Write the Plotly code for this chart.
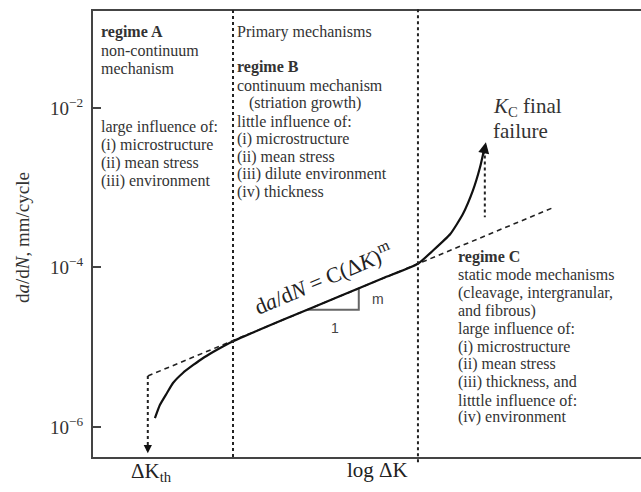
import plotly.graph_objects as go

# ---------------- data (x: log ΔK in arbitrary units, y: log10 da/dN) ----------------
curve_x = [1.13, 1.22, 1.35, 1.46, 1.64, 1.83, 2.01, 2.19, 2.37, 2.555, 3.5, 4.5, 5.3, 5.93,
           6.20, 6.52, 6.75, 6.93, 7.06, 7.135]
curve_logy = [-5.89, -5.725, -5.574, -5.449, -5.323, -5.223, -5.135, -5.06, -4.99, -4.925,
              -4.647, -4.362, -4.133, -3.953,
              -3.79, -3.58, -3.33, -3.04, -2.75, -2.525]
paris_x = [1.0, 8.43]
paris_logy = [-5.361, -3.240]
threshold_x = [1.0, 1.0]
threshold_logy = [-5.361, -6.33]
kc_x = [7.15, 7.15]
kc_logy = [-2.52, -3.37]
regime_bounds = [2.555, 5.93]
tri_x = [3.92, 4.85, 4.85]
tri_logy = [-4.53, -4.53, -4.26]
ytick_vals = [1e-6, 1e-4, 1e-2]
ytick_text = ["10<sup>−6</sup>", "10<sup>−4</sup>", "10<sup>−2</sup>"]

SERIF = "Liberation Serif"
SANS = "Liberation Sans"
TXT = "#333333"
BODY = 16

W, H = 641, 492
ML, MR, MT, MB = 93, 0, 11, 35
PW, PH = W - ML - MR, H - MT - MB


def px(xp):
    return (xp - ML) / PW


def py(yp):
    return (H - MB - yp) / PH


fig = go.Figure()

# threshold dotted arrow
fig.add_trace(go.Scatter(x=threshold_x, y=[10 ** v for v in threshold_logy], mode="lines",
                         line=dict(color="#222", width=2, dash="dot"), hoverinfo="skip"))
# Kc dotted line
fig.add_trace(go.Scatter(x=kc_x, y=[10 ** v for v in kc_logy], mode="lines",
                         line=dict(color="#222", width=2, dash="dot"), hoverinfo="skip"))
# Paris dashed line
fig.add_trace(go.Scatter(x=paris_x, y=[10 ** v for v in paris_logy], mode="lines",
                         line=dict(color="#222", width=1.6, dash="5px,4px"), hoverinfo="skip"))
# slope triangle
fig.add_trace(go.Scatter(x=tri_x, y=[10 ** v for v in tri_logy], mode="lines",
                         line=dict(color="#666", width=2), hoverinfo="skip"))
# main curve
fig.add_trace(go.Scatter(x=curve_x, y=[10 ** v for v in curve_logy], mode="lines",
                         line=dict(color="#111", width=2.2, shape="spline", smoothing=0.5),
                         hoverinfo="skip"))

# regime boundaries
fig.add_shape(type="line", x0=regime_bounds[0], x1=regime_bounds[0], xref="x", yref="paper",
              y0=0, y1=1.008, line=dict(color="#222", width=2, dash="dot"))
fig.add_shape(type="line", x0=regime_bounds[1], x1=regime_bounds[1], xref="x", yref="paper",
              y0=-0.012, y1=1.008, line=dict(color="#222", width=2, dash="dot"))

ann = []
# arrowheads
ann.append(dict(x=7.17, y=-2.43, ax=7.12, ay=-2.60, xref="x", yref="y", axref="x", ayref="y",
                showarrow=True, arrowhead=2, arrowsize=1.1, arrowwidth=2, arrowcolor="#111",
                standoff=0, text=""))
ann.append(dict(x=threshold_x[1], y=threshold_logy[1], ax=threshold_x[1], ay=threshold_logy[1] + 0.12,
                xref="x", yref="y", axref="x", ayref="y", showarrow=True, arrowhead=2,
                arrowsize=1.1, arrowwidth=1.5, arrowcolor="#111", standoff=0, text=""))


def line(text, xp, yp, size=BODY, family=SERIF, color=TXT, **kw):
    d = dict(text=text, x=px(xp), y=py(yp), xref="paper", yref="paper", showarrow=False,
             xanchor="left", yanchor="middle", font=dict(family=family, size=size, color=color))
    d.update(kw)
    ann.append(d)


# regime A
for t, yy in [("<b>regime A</b>", 32), ("non-continuum", 50), ("mechanism", 68),
              ("large influence of:", 127), ("(i) microstructure", 145),
              ("(ii) mean stress", 163), ("(iii) environment", 181)]:
    line(t, 99, yy)

# regime B
for t, yy, xx in [("Primary mechanisms", 32, 235), ("<b>regime B</b>", 67, 235),
                  ("continuum mechanism", 85, 235), ("(striation growth)", 103, 247),
                  ("little influence of:", 121, 235), ("(i) microstructure", 139, 235),
                  ("(ii) mean stress", 157, 235), ("(iii) dilute environment", 174, 235),
                  ("(iv) thickness", 192, 235)]:
    line(t, xx, yy)

# regime C
for t, yy in [("<b>regime C</b>", 257), ("static mode mechanisms", 275),
              ("(cleavage, intergranular,", 293), ("and fibrous)", 311),
              ("large influence of:", 329), ("(i) microstructure", 347),
              ("(ii) mean stress", 364), ("(iii) thickness, and", 382),
              ("litttle influence of:", 400), ("(iv) environment", 417)]:
    line(t, 456, yy)

# Kc label
line("<i>K</i><sub>C</sub> final", 491, 107, size=21)
line("failure", 491, 131, size=21)

# slope labels
line("m", 370, 299, size=14, family=SANS, color="#444")
line("1", 329, 328, size=14, family=SANS, color="#444")

# equation
ann.append(dict(text="d<i>a</i>/d<i>N</i> = C(Δ<i>K</i>)<sup>m</sup>", x=px(322), y=py(278),
                xref="paper", yref="paper", showarrow=False, xanchor="center", yanchor="middle",
                textangle=-23, font=dict(family=SERIF, size=22, color="#222")))

# x labels
ann.append(dict(text="ΔK<sub>th</sub>", x=px(151), y=py(472), xref="paper", yref="paper",
                showarrow=False, xanchor="center", yanchor="middle",
                font=dict(family=SERIF, size=21, color="#222")))
ann.append(dict(text="log ΔK", x=px(377), y=py(470), xref="paper", yref="paper",
                showarrow=False, xanchor="center", yanchor="middle",
                font=dict(family=SERIF, size=21, color="#222")))

# y title
ann.append(dict(text="d<i>a</i>/d<i>N</i>, mm/cycle", x=px(22), y=py(238), xref="paper", yref="paper",
                showarrow=False, xanchor="center", yanchor="middle", textangle=-90,
                font=dict(family=SERIF, size=19, color="#333")))

fig.update_layout(
    width=W, height=H, margin=dict(l=ML, r=MR, t=MT, b=MB),
    paper_bgcolor="white", plot_bgcolor="white", showlegend=False,
    annotations=ann,
    xaxis=dict(range=[0, 10], showgrid=False, zeroline=False, showticklabels=False, ticks="",
               showline=True, linecolor="#444", linewidth=2, mirror=True),
    yaxis=dict(type="log", range=[-6.377, -0.783], showgrid=False, zeroline=False,
               showline=True, linecolor="#444", linewidth=2, mirror=False,
               ticks="inside", ticklen=8, tickwidth=1.5, tickcolor="#444",
               tickvals=ytick_vals, ticktext=ytick_text, ticklabelstandoff=4,
               tickfont=dict(family=SERIF, size=19, color="#333")),
)

fig.write_html("out.html")
